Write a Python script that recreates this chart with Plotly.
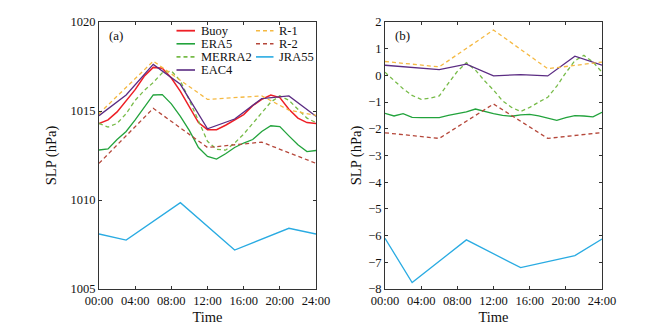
import plotly.graph_objects as go

# ---------------- data ----------------
hours_hourly = list(range(25))
hours_3h = [0, 3, 6, 9, 12, 15, 18, 21, 24]
hours_6h = [0, 6, 12, 18, 24]
hours_r1_a = [0, 6, 12, 18, 21, 24]
hours_jra = [0, 3, 9, 15, 21, 24]

x_tickvals = [0, 4, 8, 12, 16, 20, 24]
x_ticktext = ["00:00", "04:00", "08:00", "12:00", "16:00", "20:00", "24:00"]

# panel (a): SLP (hPa)
buoy = [1014.3, 1014.5, 1014.95, 1015.6, 1016.2, 1016.95, 1017.45, 1017.4, 1016.85,
        1016.1, 1015.2, 1014.35, 1013.95, 1013.95, 1014.2, 1014.5, 1014.8, 1015.3,
        1015.65, 1015.9, 1015.75, 1015.1, 1014.6, 1014.35, 1014.3]
era5 = [1012.81, 1012.87, 1013.4, 1013.85, 1014.5, 1015.2, 1015.9, 1015.92, 1015.4,
        1014.7, 1013.9, 1012.95, 1012.45, 1012.3, 1012.6, 1012.95, 1013.2, 1013.4,
        1013.85, 1014.17, 1014.12, 1013.6, 1013.1, 1012.72, 1012.78]
merra2 = [1014.3, 1014.1, 1014.3, 1014.85, 1015.6, 1016.15, 1016.6, 1017.15, 1017.25,
          1016.7, 1015.6, 1014.4, 1013.3, 1012.85, 1012.8, 1013.2, 1013.7, 1014.3,
          1014.9, 1015.5, 1015.85, 1015.6, 1015.1, 1014.6, 1014.35]
eac4 = [1014.74, 1015.9, 1017.62, 1016.5, 1014.0, 1014.55, 1015.7, 1015.85, 1014.7]
r1 = [1014.85, 1017.8, 1015.65, 1015.85, 1015.05, 1014.75]
r2 = [1012.06, 1015.15, 1012.95, 1013.25, 1012.06]
jra55 = [1008.09, 1007.75, 1009.85, 1007.19, 1008.41, 1008.09]

# panel (b): difference (hPa)
era5_d = [-1.42, -1.52, -1.43, -1.57, -1.58, -1.58, -1.58, -1.5, -1.43, -1.37, -1.26,
          -1.35, -1.43, -1.5, -1.53, -1.48, -1.46, -1.52, -1.6, -1.68, -1.58, -1.51,
          -1.52, -1.55, -1.38]
merra2_d = [0.12, -0.2, -0.5, -0.75, -0.9, -0.85, -0.77, -0.3, 0.15, 0.48, 0.2, -0.2,
            -0.55, -0.95, -1.2, -1.35, -1.2, -1.0, -0.82, -0.4, 0.1, 0.55, 0.75, 0.5, 0.12]
eac4_d = [0.38, 0.3, 0.22, 0.42, -0.02, 0.03, -0.02, 0.72, 0.38]
r1_d = [0.52, 0.32, 1.7, 0.25, 0.5]
r2_d = [-2.15, -2.36, -1.07, -2.36, -2.14]
jra55_d = [-6.1, -7.76, -6.16, -7.2, -6.75, -6.13]

# ---------------- styles ----------------
FONT = "Liberation Serif"
styles = {
    "Buoy":   dict(color="#ee1f26", dash="solid", width=1.5),
    "ERA5":   dict(color="#22a33c", dash="solid", width=1.3),
    "MERRA2": dict(color="#77bb48", dash="4px,3px", width=1.3),
    "EAC4":   dict(color="#5b2c83", dash="solid", width=1.3),
    "R-1":    dict(color="#f5b942", dash="4px,3px", width=1.3),
    "R-2":    dict(color="#b5473a", dash="4px,3px", width=1.3),
    "JRA55":  dict(color="#29abe2", dash="solid", width=1.3),
}

fig = go.Figure()

series_a = [
    ("Buoy", hours_hourly, buoy),
    ("ERA5", hours_hourly, era5),
    ("MERRA2", hours_hourly, merra2),
    ("EAC4", hours_3h, eac4),
    ("R-1", hours_r1_a, r1),
    ("R-2", hours_6h, r2),
    ("JRA55", hours_jra, jra55),
]
series_b = [
    ("ERA5", hours_hourly, era5_d),
    ("MERRA2", hours_hourly, merra2_d),
    ("EAC4", hours_3h, eac4_d),
    ("R-1", hours_6h, r1_d),
    ("R-2", hours_6h, r2_d),
    ("JRA55", hours_jra, jra55_d),
]

for name, xs, ys in series_a:
    fig.add_trace(go.Scatter(x=xs, y=ys, mode="lines", name=name, line=styles[name],
                             xaxis="x", yaxis="y", showlegend=False))
for name, xs, ys in series_b:
    fig.add_trace(go.Scatter(x=xs, y=ys, mode="lines", name=name, line=styles[name],
                             xaxis="x2", yaxis="y2", showlegend=False))

# the page body has an 8px margin: figure is sized to fit inside the window
OFF = 8
W, H = 649 - 2 * OFF, 335 - 2 * OFF


def px(x):
    return (x - OFF) / W


def py(y):
    return 1 - (y - OFF) / H


ax_common = dict(showgrid=False, zeroline=False, showline=True, linecolor="#333333",
                 linewidth=1, mirror="ticks", ticks="inside", ticklen=3, tickwidth=1,
                 tickcolor="#333333", automargin=False,
                 tickfont=dict(family=FONT, size=12.5, color="#111"))

fig.update_layout(
    width=W, height=H,
    margin=dict(l=0, r=0, t=0, b=0),
    paper_bgcolor="white", plot_bgcolor="white",
    font=dict(family=FONT, color="#111"),
    xaxis=dict(domain=[px(99), px(316)], range=[0, 24], tickvals=x_tickvals,
               ticktext=x_ticktext, anchor="y",
               title=dict(text="Time", font=dict(size=14.5), standoff=4), **ax_common),
    yaxis=dict(domain=[py(289), py(22)], range=[1005, 1020], dtick=5,
               anchor="x", title=dict(text="SLP (hPa)", font=dict(size=14.5), standoff=10),
               **ax_common),
    xaxis2=dict(domain=[px(385), px(602)], range=[0, 24], tickvals=x_tickvals,
                ticktext=x_ticktext, anchor="y2",
                title=dict(text="Time", font=dict(size=14.5), standoff=4), **ax_common),
    yaxis2=dict(domain=[py(289), py(22)], range=[-8, 2], dtick=1,
                anchor="x2", title=dict(text="SLP (hPa)", font=dict(size=14.5), standoff=3),
                **ax_common),
)

# panel labels
fig.add_annotation(text="(a)", x=px(106.5), y=py(35), xref="paper", yref="paper",
                   xanchor="left", yanchor="middle", showarrow=False,
                   font=dict(family=FONT, size=13, color="#111"))
fig.add_annotation(text="(b)", x=px(393), y=py(35), xref="paper", yref="paper",
                   xanchor="left", yanchor="middle", showarrow=False,
                   font=dict(family=FONT, size=13, color="#111"))

# legend (two columns, drawn in panel a)
legend_cols = [["Buoy", "ERA5", "MERRA2", "EAC4"], ["R-1", "R-2", "JRA55"]]
col_x = [(176.5, 195.0, 198.5), (256.0, 273.5, 277.0)]
row_y0, row_dy = 30.7, 13.1
for ci, names in enumerate(legend_cols):
    x0, x1, xt = col_x[ci]
    for ri, name in enumerate(names):
        yy = row_y0 + ri * row_dy
        st = styles[name]
        fig.add_shape(type="line", xref="paper", yref="paper",
                      x0=px(x0), x1=px(x1), y0=py(yy), y1=py(yy),
                      line=dict(color=st["color"], dash=st["dash"], width=st["width"] + 0.3))
        fig.add_annotation(text=name, x=px(xt), y=py(yy), xref="paper", yref="paper",
                           xanchor="left", yanchor="middle", showarrow=False,
                           font=dict(family=FONT, size=12.5, color="#111"))

fig.write_html("out.html")
